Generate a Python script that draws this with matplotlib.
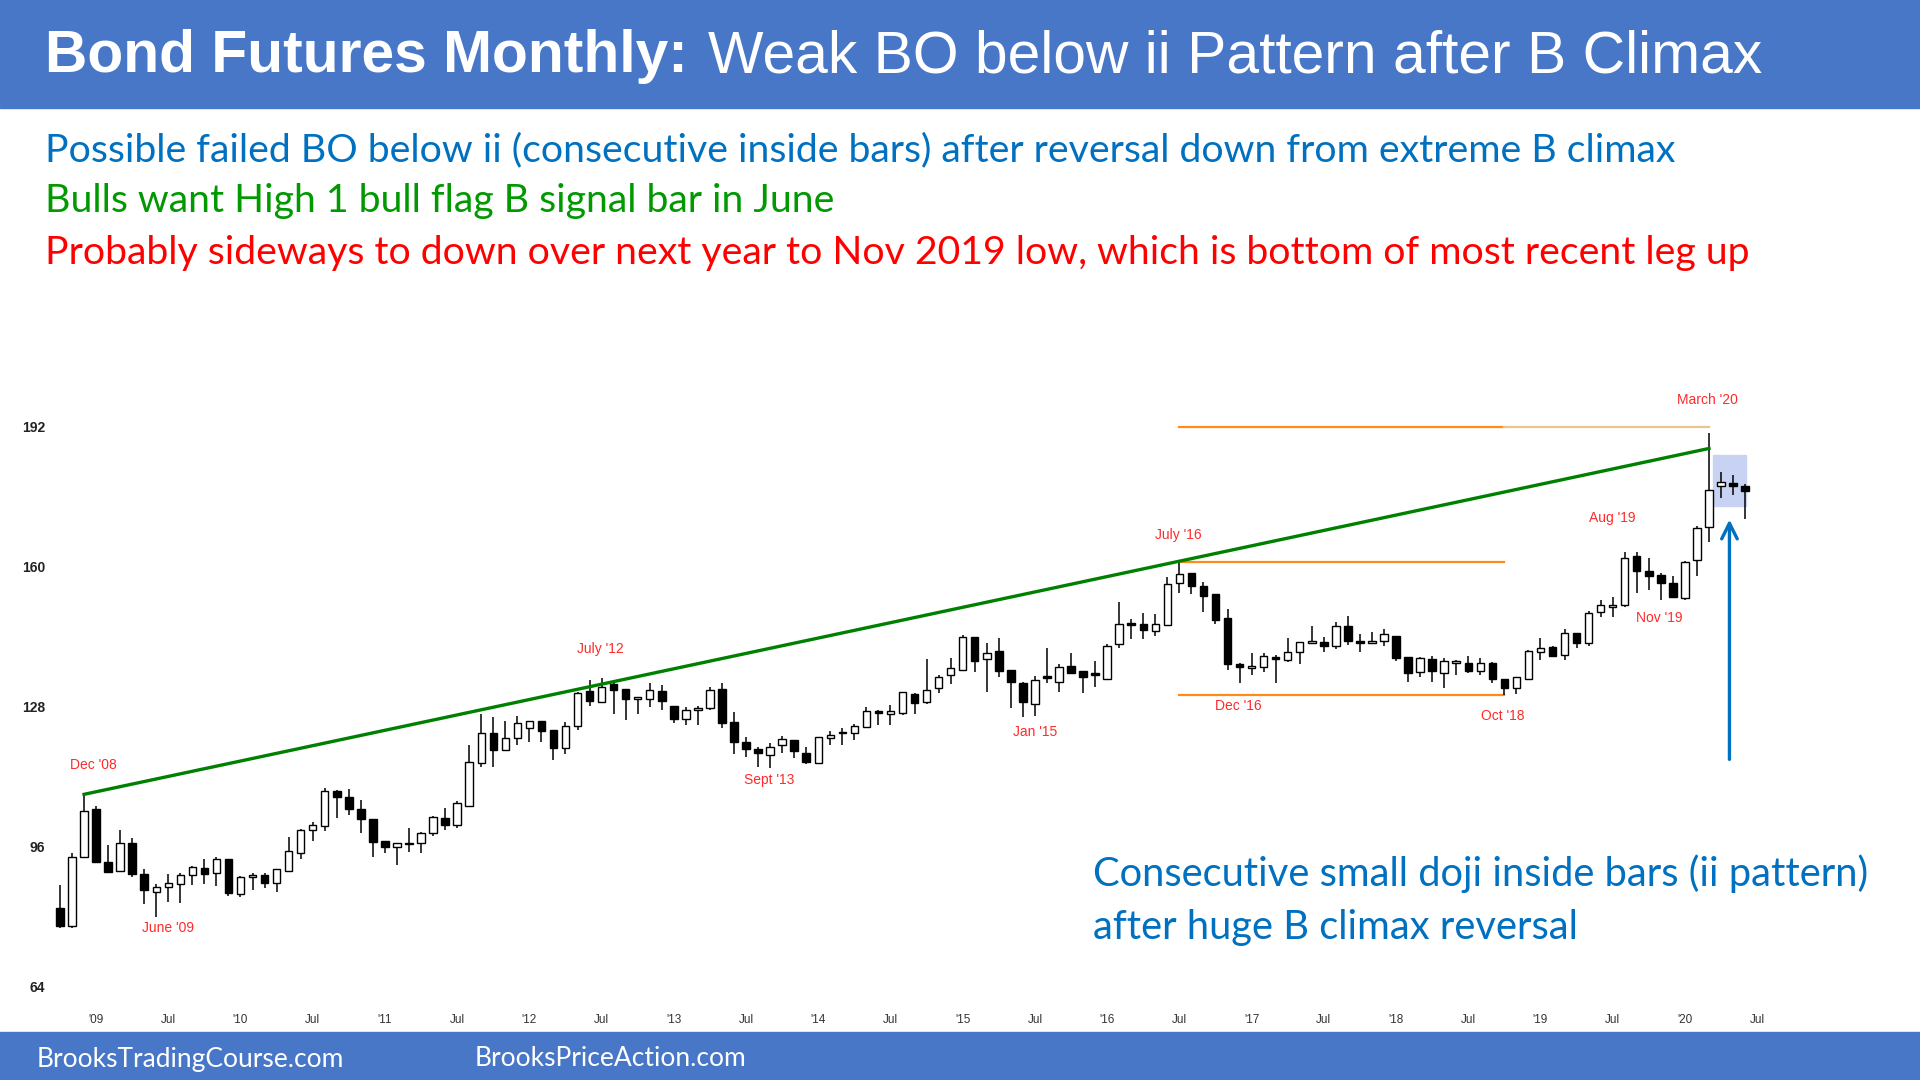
import numpy as np
import matplotlib
matplotlib.use("Agg")
import matplotlib.pyplot as plt
from matplotlib.patches import Rectangle, FancyArrowPatch

# monthly bars, Oct 2008 .. Jun 2020
opens = [82.1, 77.9, 93.6, 104.6, 92.5, 90.4, 96.9, 89.8, 85.6, 86.7, 87.5, 89.5,
         91.2, 89.9, 93.1, 85.3, 89.0, 89.5, 87.8, 90.5, 94.6, 99.7, 100.7, 108.7,
         107.4, 104.6, 102.3, 97.2, 95.85, 96.9, 96.9, 99.05, 102.6, 100.95, 105.4, 115.2,
         121.9, 118.1, 120.7, 123.2, 124.7, 122.6, 118.6, 123.5, 131.6, 129.1, 133.1, 132.1,
         129.8, 129.6, 131.6, 128.1, 125.1, 127.2, 127.6, 131.9, 124.5, 120.0, 118.4, 116.9,
         119.2, 120.4, 117.5, 115.2, 120.9, 121.9, 121.9, 123.4, 126.7, 126.4, 126.6, 130.8,
         129.1, 132.2, 135.2, 136.3, 143.9, 138.8, 140.7, 136.3, 133.3, 128.6, 134.7, 133.7,
         137.3, 136.2, 135.4, 134.3, 142.3, 146.8, 146.8, 145.2, 146.5, 156.3, 158.4, 155.5,
         153.7, 148.1, 137.7, 136.7, 137.1, 139.2, 138.6, 140.5, 142.6, 142.7, 141.8, 146.4,
         142.7, 142.4, 143.0, 144.2, 139.4, 135.8, 138.8, 135.6, 138.0, 138.0, 136.2, 137.9,
         134.3, 132.2, 134.3, 140.5, 141.5, 139.8, 144.7, 142.6, 149.6, 150.6, 151.2, 162.4,
         159.0, 158.0, 156.1, 152.7, 161.4, 168.9, 178.3, 179.1, 178.3]
highs = [87.3, 94.5, 107.9, 105.4, 96.4, 99.7, 97.9, 90.8, 87.5, 89.8, 89.9, 91.6,
         93.3, 93.6, 93.2, 89.3, 89.9, 90.1, 91.0, 98.3, 100.0, 101.6, 109.3, 108.9,
         109.1, 106.7, 102.3, 97.2, 96.9, 100.2, 99.4, 103.0, 104.9, 106.5, 119.2, 126.4,
         125.5, 124.7, 125.8, 124.7, 124.7, 122.6, 124.5, 131.4, 134.05, 134.6, 133.4, 132.1,
         130.1, 133.3, 132.9, 128.1, 127.8, 128.1, 132.5, 133.3, 126.8, 121.1, 118.8, 119.6,
         121.3, 120.4, 118.7, 121.1, 122.3, 123.0, 124.0, 127.8, 127.2, 128.3, 131.4, 131.0,
         138.8, 135.2, 139.0, 144.3, 143.9, 142.6, 143.6, 136.3, 133.7, 135.0, 141.3, 137.7,
         140.3, 136.2, 138.5, 142.3, 151.9, 147.9, 149.3, 149.1, 157.5, 160.7, 158.4, 156.5,
         153.7, 150.3, 137.9, 140.3, 140.1, 139.75, 143.6, 142.8, 146.4, 143.8, 147.4, 148.7,
         144.5, 145.1, 145.8, 144.2, 139.4, 139.4, 139.5, 139.0, 138.6, 139.5, 139.0, 138.2,
         134.3, 134.8, 140.9, 143.6, 141.8, 145.8, 144.7, 149.9, 152.4, 152.9, 163.3, 163.3,
         161.8, 158.5, 157.8, 161.3, 169.3, 190.4, 181.6, 180.8, 178.8]
lows = [77.4, 77.4, 93.6, 92.2, 90.3, 90.4, 89.0, 82.9, 80.0, 83.3, 83.1, 87.2,
        87.5, 87.0, 84.7, 84.6, 86.1, 86.5, 85.7, 90.3, 93.3, 97.4, 99.6, 102.6,
        103.2, 99.05, 93.6, 94.5, 91.8, 94.7, 94.5, 98.4, 99.8, 100.2, 105.1, 114.3,
        114.3, 118.0, 119.2, 120.0, 120.0, 115.8, 117.2, 122.6, 128.1, 128.9, 126.3, 124.9,
        126.4, 128.0, 127.3, 124.3, 123.8, 123.8, 127.3, 123.2, 117.2, 116.4, 114.3, 113.9,
        117.3, 116.2, 114.9, 115.1, 119.2, 119.2, 120.3, 123.0, 123.8, 123.8, 126.0, 126.3,
        128.6, 131.0, 133.1, 136.2, 135.8, 131.4, 134.8, 127.6, 125.5, 125.8, 133.3, 131.2,
        135.4, 131.0, 132.4, 134.1, 141.4, 143.3, 143.3, 144.1, 146.3, 153.8, 153.7, 149.5,
        146.8, 136.3, 133.3, 135.2, 135.8, 133.3, 138.2, 137.7, 142.3, 140.5, 141.1, 142.0,
        140.5, 142.3, 141.7, 138.5, 133.7, 134.8, 133.7, 132.3, 135.2, 135.7, 135.2, 133.4,
        130.6, 130.9, 134.1, 138.6, 139.2, 138.6, 141.3, 141.7, 148.5, 148.5, 150.8, 154.0,
        154.6, 152.3, 152.7, 152.3, 157.8, 165.5, 175.7, 176.3, 170.7]
closes = [77.9, 93.6, 104.1, 92.4, 90.3, 96.8, 89.7, 86.1, 86.8, 87.6, 89.5, 91.3,
          89.7, 93.2, 85.5, 89.1, 89.5, 87.8, 90.8, 95.0, 99.7, 100.95, 108.7, 107.4,
          104.5, 102.3, 97.15, 95.85, 96.8, 96.6, 99.1, 102.7, 100.95, 105.95, 115.3, 121.9,
          118.1, 120.7, 124.2, 124.7, 122.4, 118.5, 123.5, 131.0, 129.3, 132.4, 131.8, 129.7,
          129.9, 131.8, 129.3, 125.1, 127.2, 127.7, 131.8, 124.3, 119.97, 118.3, 117.5, 118.8,
          120.6, 117.8, 115.25, 120.96, 121.6, 122.1, 123.5, 126.9, 126.6, 127.0, 131.2, 128.9,
          131.8, 134.8, 136.7, 143.8, 138.5, 140.3, 136.2, 133.7, 129.1, 134.0, 134.5, 137.1,
          135.7, 134.8, 135.2, 141.9, 146.8, 146.7, 145.5, 146.8, 155.96, 158.2, 155.5, 153.2,
          147.7, 137.7, 137.1, 137.3, 139.5, 138.8, 140.5, 142.8, 142.7, 141.9, 146.4, 143.0,
          142.6, 143.0, 144.5, 139.1, 135.6, 139.0, 136.1, 138.4, 138.2, 136.2, 138.0, 134.3,
          132.2, 134.7, 140.7, 141.3, 139.5, 144.7, 142.6, 149.4, 151.2, 151.2, 161.8, 159.0,
          157.8, 156.3, 153.1, 161.05, 168.7, 177.4, 179.3, 178.3, 177.2]

# x tick labels, every 6 months from Jan 2009
tick_labels = []
for yr in range(9, 21):
    tick_labels += ["'%02d" % yr, "Jul"]
y_ticks = [64, 96, 128, 160, 192]

# swing point labels: (text, month index, price)
swing_labels = [("Dec '08", 2.8, 114.6), ("June '09", 9.0, 77.5), ("July '12", 44.9, 141.1),
                ("Sept '13", 58.9, 111.3), ("Jan '15", 81.0, 122.2), ("July '16", 92.9, 167.1),
                ("Dec '16", 97.9, 128.1), ("Oct '18", 119.9, 125.8), ("Aug '19", 129.0, 171.0),
                ("Nov '19", 132.9, 148.2), ("March '20", 136.9, 197.9)]

# drawn lines
trend_x = [2, 137]
trend_y = [107.95, 186.9]
range_top = 191.9
july16_high = 161.06
range_bottom = 130.6

blue = '#0070c0'
bar_blue = '#4777c6'

fig = plt.figure(figsize=(19.2, 10.8), dpi=100)
W, H = 1920, 1080

# header / footer bars
fig.patches.append(Rectangle((0, 1 - 108 / H), 1, 108 / H, transform=fig.transFigure,
                             color=bar_blue, zorder=0))
fig.patches.append(Rectangle((0, 0), 1, 48 / H, transform=fig.transFigure,
                             color=bar_blue, zorder=0))

t1 = fig.text(45 / W, 1 - 57 / H, "Bond Futures Monthly:", color='white', fontsize=42.3,
              fontweight='bold', family='Liberation Sans', va='center')
fig.canvas.draw()
bb = t1.get_window_extent()
fig.text(bb.x1 / W + 20 / W, 1 - 57 / H, "Weak BO below ii Pattern after B Climax",
         color='white', fontsize=42.3, family='Liberation Sans', va='center')

fig.text(45 / W, 1 - 150 / H,
         "Possible failed BO below ii (consecutive inside bars) after reversal down from extreme B climax",
         color=blue, fontsize=28.3, family='Lato', va='center')
fig.text(45 / W, 1 - 201 / H, "Bulls want High 1 bull flag B signal bar in June",
         color='#009900', fontsize=28.3, family='Lato', va='center')
fig.text(45 / W, 1 - 253 / H,
         "Probably sideways to down over next year to Nov 2019 low, which is bottom of most recent leg up",
         color='#ff0000', fontsize=28.3, family='Lato', va='center')

fig.text(1093 / W, 1 - 874 / H, "Consecutive small doji inside bars (ii pattern)",
         color=blue, fontsize=28.7, family='Lato', va='center')
fig.text(1093 / W, 1 - 927 / H, "after huge B climax reversal",
         color=blue, fontsize=28.7, family='Lato', va='center')

fig.text(37 / W, 1 - 1059 / H, "BrooksTradingCourse.com", color='white', fontsize=19,
         family='Lato', va='center')
fig.text(475 / W, 1 - 1059 / H, "BrooksPriceAction.com", color='white', fontsize=19,
         family='Lato', va='center')

# price chart
ax = fig.add_axes([52 / W, 1 - 1008 / H, (1780 - 52) / W, (1008 - 290) / H])
ax.set_facecolor('none')
ax.set_xlim(-0.66, 142.9)
ax.set_ylim(59.18, 223.07)
for s in ax.spines.values():
    s.set_visible(False)

idx = np.arange(len(opens))
o = np.array(opens)
c = np.array(closes)
up = c >= o

# ii box
ax.add_patch(Rectangle((137.35, 173.8), 2.75, 11.6, color='#c8d2f3', zorder=1))

ax.vlines(idx, lows, highs, color='black', lw=1.1, zorder=2)
body_h = np.maximum(np.abs(c - o), 0.35)
ax.bar(idx, body_h, bottom=np.minimum(o, c), width=0.62,
       color=np.where(up, 'white', 'black'), edgecolor='black', lw=1.0, zorder=3)

# lines
ax.plot(trend_x, trend_y, color='#008000', lw=2.4, zorder=4)
ax.plot([93, 120], [range_top, range_top], color='#ff8c1a', lw=1.6, zorder=1)
ax.plot([120, 137], [range_top, range_top], color='#e9c48f', lw=1.6, zorder=1)
ax.plot([93, 120], [july16_high, july16_high], color='#ff8c1a', lw=1.6, zorder=1)
ax.plot([93, 120], [range_bottom, range_bottom], color='#ff8c1a', lw=1.6, zorder=1)

ax.add_patch(FancyArrowPatch((138.7, 115.3), (138.7, 171.3), arrowstyle='->',
                             mutation_scale=28, color=blue, lw=2.4, zorder=5))

for txt, x, y in swing_labels:
    ax.text(x, y, txt, color='#ff2a2a', fontsize=10, ha='center', va='center',
            family='Liberation Sans')

ax.set_xticks(np.arange(3, 3 + 6 * len(tick_labels), 6))
ax.set_xticklabels(tick_labels, fontsize=8.5, color='#333333', family='Liberation Sans')
ax.set_yticks(y_ticks)
ax.set_yticklabels([str(v) for v in y_ticks], fontsize=10, fontweight='bold',
                   color='#222222', family='Liberation Sans')
ax.tick_params(length=0, pad=5)
ax.tick_params(axis='x', pad=4)

fig.savefig('out.png', dpi=100)
